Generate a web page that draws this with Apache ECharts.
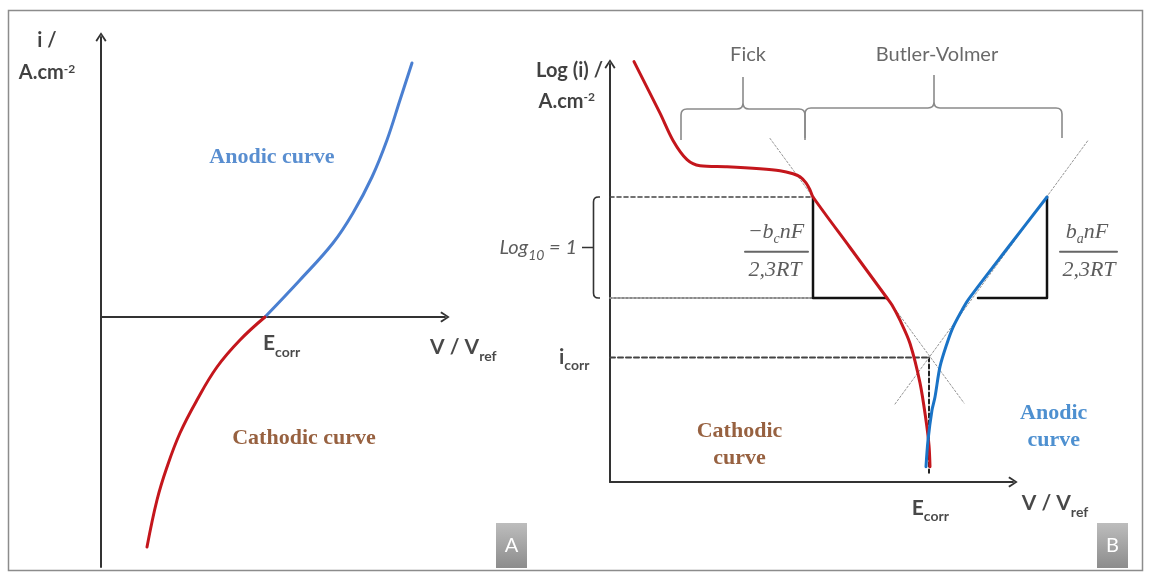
<!DOCTYPE html>
<html>
<head>
<meta charset="utf-8">
<script src="https://cdn.jsdelivr.net/npm/echarts@6/dist/echarts.min.js"></script>
<style>
  html, body { margin: 0; padding: 0; background: #fff; }
  #chart { width: 1151px; height: 574px; }
</style>
</head>
<body>
<div id="chart"></div>
<script>
// ---------- Panel A: current density vs potential (linear scale, arbitrary units) ----------
const anodicA   = [[6.56, 0], [7.96, 1.48], [9.28, 2.96], [10.08, 4.16], [10.84, 5.6], [11.44, 7.08], [11.96, 8.68], [12.44, 10.16]];
const cathodicA = [[6.56, 0], [5.56, -0.92], [4.64, -2.0], [3.84, -3.32], [3.16, -4.64], [2.64, -6.0], [2.24, -7.32], [1.84, -9.2]];

// ---------- Panel B: log(i) in decades vs potential in mV ----------
const cathodicB = [[-476, -3.66], [-450, -4.17], [-437, -4.44], [-423, -4.63], [-410, -4.69], [-383, -4.70], [-350, -4.72],
                   [-330, -4.74], [-317, -4.77], [-310, -4.80], [-304, -4.86], [-300, -4.93], [-297, -5.00], [-260, -5.50],
                   [-223, -6.00], [-218, -6.07], [-210, -6.22], [-200, -6.45], [-190, -6.84], [-184, -7.21], [-181, -7.46],
                   [-180, -7.67]];
const anodicB   = [[-184, -7.67], [-182, -7.41], [-178, -7.11], [-175, -6.98], [-170, -6.68], [-163, -6.45], [-157, -6.29],
                   [-148, -6.12], [-142, -6.02], [-102, -5.50], [-63, -5.00]];
const tafelCathodic = [[-340, -4.42], [-146, -7.04]];
const tafelAnodic   = [[-215, -7.05], [-22, -4.44]];
const eCorr = -181;          // mV
const logICorr = -6.59;      // decades
const decade = [-5, -6];     // one decade of current (Log10 = 1)
const cathodicStepX = [-297, -223];
const anodicStepX = [-132, -63];

// brace spans: [left, middle, right, foot, bar, tip]
const fickBrace   = [-429, -367, -305, -4.436, -4.129, -3.812];
const bvBrace     = [-305, -176, -48, -4.416, -4.119, -3.792];
const decadeBrace = [-510, -516.5, -528];   // [ends, spine, tick]

const SANS = 'Lato, "Open Sans", sans-serif';
const SERIF = '"Liberation Serif", "DejaVu Serif", serif';
const RED = '#c4161c';
const BLUE_A = '#4a7fd1';
const BLUE_B = '#1a73c6';

const CHEVRON = 'path://M6,0 L12,9 L10.4,10.3 L6,3.2 L1.6,10.3 L0,9 Z';

function axis(grid, min, max, visible) {
  return { gridIndex: grid, type: 'value', min, max,
           axisLine: { show: visible, onZero: false, symbol: ['none', CHEVRON], symbolSize: [11, 10],
                       lineStyle: { color: '#333', width: 2 } },
           axisTick: { show: false }, axisLabel: { show: false }, splitLine: { show: false } };
}

function path(idx, data, color, width, type, smooth, z) {
  return { type: 'line', xAxisIndex: idx, yAxisIndex: idx, data, symbol: 'none', clip: false, silent: true,
           smooth: smooth || false, z: z || 3, animation: false,
           lineStyle: { color, width, type: type || 'solid', cap: 'round', join: 'round' } };
}

function label(xy, text, rich, align) {
  return { value: xy, label: { show: true, position: 'inside', align: align || 'center', verticalAlign: 'middle',
                               formatter: () => text, rich } };
}

const rich = {
  ax:    { fontFamily: SANS, fontSize: 20, fontWeight: 'bold', color: '#111' },
  sup:   { fontFamily: SANS, fontSize: 12, fontWeight: 'bold', color: '#111', verticalAlign: 'top', lineHeight: 12 },
  big:   { fontFamily: SANS, fontSize: 21, fontWeight: 'bold', color: '#1a1a1a', lineHeight: 32 },
  sub:   { fontFamily: SANS, fontSize: 14, fontWeight: 'bold', color: '#1a1a1a', verticalAlign: 'bottom', lineHeight: 15 },
  ann:   { fontFamily: SANS, fontSize: 20, color: '#444' },
  frac:  { fontFamily: SERIF, fontSize: 22, fontStyle: 'italic', color: '#333', lineHeight: 28 },
  fsub:  { fontFamily: SERIF, fontSize: 14, fontStyle: 'italic', color: '#333', verticalAlign: 'bottom', lineHeight: 14 },
  log:   { fontFamily: SANS, fontSize: 20, fontStyle: 'italic', color: '#333', lineHeight: 28 },
  lsub:  { fontFamily: SANS, fontSize: 14, fontStyle: 'italic', color: '#333', verticalAlign: 'bottom', lineHeight: 14 },
  anod:  { fontFamily: SERIF, fontSize: 22, fontWeight: 'bold', color: '#2f72c4', lineHeight: 27 },
  anodB: { fontFamily: SERIF, fontSize: 22, fontWeight: 'bold', color: '#2274c4', lineHeight: 27 },
  cath:  { fontFamily: SERIF, fontSize: 22, fontWeight: 'bold', color: '#7d3a10', lineHeight: 27 }
};

function braceH(params, api) {
  const L = api.coord([api.value(0), api.value(3)]);
  const H = api.coord([api.value(0), api.value(4)]);
  const M = api.coord([api.value(1), api.value(4)]);
  const T = api.coord([api.value(1), api.value(5)]);
  const R = api.coord([api.value(2), api.value(3)]);
  const r = 6, y = H[1];
  const d = `M${L[0]},${L[1]} L${L[0]},${y + r} Q${L[0]},${y} ${L[0] + r},${y} L${M[0] - r},${y} ` +
            `Q${M[0]},${y} ${M[0]},${y - r} L${M[0]},${T[1]} M${M[0]},${y - r} Q${M[0]},${y} ${M[0] + r},${y} ` +
            `L${R[0] - r},${y} Q${R[0]},${y} ${R[0]},${y + r} L${R[0]},${R[1]}`;
  return { type: 'path', shape: { pathData: d }, style: { fill: 'none', stroke: '#8a8a8a', lineWidth: 1.6 } };
}

function braceV(params, api) {
  const TR = api.coord([api.value(0), api.value(3)]);
  const BR = api.coord([api.value(0), api.value(4)]);
  const sx = api.coord([api.value(1), api.value(3)])[0];
  const tk = api.coord([api.value(2), api.value(5)]);
  const r = 5;
  const d = `M${TR[0]},${TR[1]} L${sx + r},${TR[1]} Q${sx},${TR[1]} ${sx},${TR[1] + r} L${sx},${BR[1] - r} ` +
            `Q${sx},${BR[1]} ${sx + r},${BR[1]} L${BR[0]},${BR[1]} M${sx},${tk[1]} L${tk[0]},${tk[1]}`;
  return { type: 'path', shape: { pathData: d }, style: { fill: 'none', stroke: '#333', lineWidth: 1.6 } };
}

const midDecade = (decade[0] + decade[1]) / 2;
const barY = -5.542;
const logMin = -7.8218, logMax = -3.6832;

// Panel A axes cross at i = 0; panel B axes are drawn on grid 1, its marks on the wider grid 2 (same scale).
const xA = axis(0, 0, 13.76, true);  xA.axisLine.onZero = true;
const yA = axis(0, -10, 11.2, true);

const option = {
  backgroundColor: '#fff',
  animation: false,
  grid: [
    { left: 101, top: 37, width: 344, height: 530 },
    { left: 610, top: 64, width: 403, height: 418 },
    { left: 610, top: 64, width: 520, height: 418 }
  ],
  xAxis: [xA, axis(1, -500, -97, true), axis(2, -500, 20, false)],
  yAxis: [yA, axis(1, logMin, logMax, true), axis(2, logMin, logMax, false)],
  graphic: [
    { type: 'rect', silent: true, shape: { x: 8.5, y: 10.5, width: 1134, height: 560 },
      style: { fill: 'none', stroke: '#8c8c8c', lineWidth: 1.5 } },
    { type: 'group', left: 496, top: 523, children: [
      { type: 'rect', shape: { x: 0, y: 0, width: 31, height: 45 },
        style: { fill: { type: 'linear', x: 0, y: 0, x2: 0, y2: 1,
                         colorStops: [{ offset: 0, color: '#bdbdbd' }, { offset: 1, color: '#8c8c8c' }] } } },
      { type: 'text', x: 15.5, y: 22.5, style: { text: 'A', fill: '#fff', font: '20px ' + SANS, align: 'center', verticalAlign: 'middle' } }
    ] },
    { type: 'group', left: 1097, top: 523, children: [
      { type: 'rect', shape: { x: 0, y: 0, width: 31, height: 45 },
        style: { fill: { type: 'linear', x: 0, y: 0, x2: 0, y2: 1,
                         colorStops: [{ offset: 0, color: '#bdbdbd' }, { offset: 1, color: '#8c8c8c' }] } } },
      { type: 'text', x: 15.5, y: 22.5, style: { text: 'B', fill: '#fff', font: '20px ' + SANS, align: 'center', verticalAlign: 'middle' } }
    ] }
  ],
  series: [
    // Panel A curves
    path(0, anodicA, BLUE_A, 3, 'solid', 0.4, 4),
    path(0, cathodicA, RED, 3, 'solid', 0.4, 4),

    // Panel B guides
    path(2, tafelCathodic, '#959595', 1, [2, 2]),
    path(2, tafelAnodic, '#959595', 1, [2, 2]),
    path(2, [[-500, decade[0]], [cathodicStepX[0], decade[0]]], '#444', 1.6, [4, 3]),
    path(2, [[-500, decade[1]], [cathodicStepX[0], decade[1]]], '#8a8a8a', 2, [2, 2]),
    path(2, [[-500, logICorr], [eCorr, logICorr]], '#444', 2, [5, 3]),
    path(2, [[eCorr, logICorr], [eCorr, -7.73]], '#222', 2, [4, 3], false, 2),
    path(2, [[cathodicStepX[0], decade[0]], [cathodicStepX[0], decade[1]], [cathodicStepX[1], decade[1]]], '#111', 2.5),
    path(2, [[anodicStepX[1], decade[0]], [anodicStepX[1], decade[1]], [anodicStepX[0], decade[1]]], '#111', 2.5),
    path(2, [[-365, barY], [-302, barY]], '#666', 2),
    path(2, [[-50, barY], [7, barY]], '#666', 2),

    // Panel B curves
    path(2, cathodicB, RED, 3, 'solid', 0.3, 5),
    path(2, anodicB, BLUE_B, 3, 'solid', 0.3, 5),

    // Braces
    { type: 'custom', xAxisIndex: 2, yAxisIndex: 2, silent: true, renderItem: braceH, data: [fickBrace, bvBrace] },
    { type: 'custom', xAxisIndex: 2, yAxisIndex: 2, silent: true, renderItem: braceV,
      data: [[decadeBrace[0], decadeBrace[1], decadeBrace[2], decade[0], decade[1], midDecade]] },

    // Panel A texts
    { type: 'scatter', xAxisIndex: 0, yAxisIndex: 0, symbolSize: 0, clip: false, silent: true, z: 10, data: [
      label([-2.16, 11.04], '{ax|i /}', rich),
      label([-2.16, 9.76], '{ax|A.cm}{sup|-2}', rich),
      label([6.84, 6.40], '{anod|Anodic curve}', rich),
      label([8.12, -4.84], '{cath|Cathodic curve}', rich),
      label([6.48, -1.04], '{big|E}{sub|corr}', rich, 'left'),
      label([13.16, -1.2], '{big|V / V}{sub|ref}', rich, 'left')
    ] },

    // Panel B texts
    { type: 'scatter', xAxisIndex: 2, yAxisIndex: 2, symbolSize: 0, clip: false, silent: true, z: 10, data: [
      label([-507, -3.752], '{ax|Log (i) /}', rich, 'right'),
      label([-515, -4.05], '{ax|A.cm}{sup|-2}', rich, 'right'),
      label([-362, -3.594], '{ann|Fick}', rich),
      label([-173, -3.594], '{ann|Butler-Volmer}', rich),
      label([-533, -5.505], '{log|Log}{lsub|10}{log| = 1}', rich, 'right'),
      label([-334, -5.347], '{frac|\u2212b}{fsub|c}{frac|nF}', rich),
      label([-335, -5.723], '{frac|2,3RT}', rich),
      label([-23, -5.347], '{frac|b}{fsub|a}{frac|nF}', rich),
      label([-21, -5.723], '{frac|2,3RT}', rich),
      label([-551, -6.584], '{big|i}{sub|corr}', rich, 'left'),
      label([-370.5, -7.455], '{cath|Cathodic}\n{cath|curve}', rich),
      label([-56.3, -7.277], '{anodB|Anodic}\n{anodB|curve}', rich),
      label([-198.3, -8.079], '{big|E}{sub|corr}', rich, 'left'),
      label([-88.3, -8.03], '{big|V / V}{sub|ref}', rich, 'left')
    ] }
  ]
};

const chart = echarts.init(document.getElementById('chart'), null, { renderer: 'canvas' });
chart.setOption(option);
</script>
</body>
</html>
